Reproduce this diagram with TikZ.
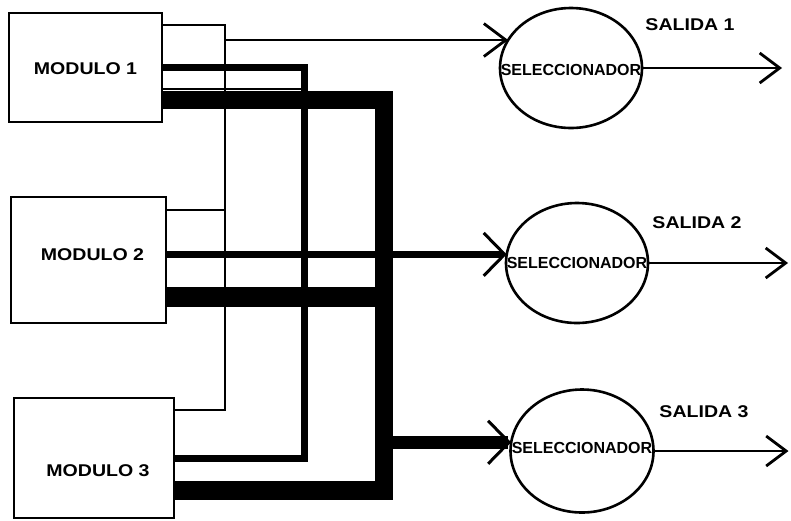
\documentclass[tikz,border=0pt]{standalone}
\usepackage{fontspec}
\newfontfamily\lblfont[FakeStretch=1.15]{Liberation Sans}
\newfontfamily\selfont{Liberation Sans}
\usetikzlibrary{shapes.geometric,arrows.meta}

\begin{document}
\begin{tikzpicture}[x=1pt,y=-1pt,
    modbox/.style={draw,line width=2.6pt,inner sep=0pt,outer sep=0pt,anchor=north west},
    selbox/.style={draw,ellipse,line width=2.6pt,inner sep=0pt,outer sep=0pt,minimum width=142pt,minimum height=120pt},
    lbl/.style={font=\lblfont\bfseries\fontsize{17}{20}\selectfont,inner sep=0pt},
    sellbl/.style={font=\selfont\bfseries\fontsize{16}{19}\selectfont,inner sep=0pt},
    wthin/.style={line width=2.6pt},
    wmed/.style={line width=7pt},
    wthick/.style={line width=18pt},
    selin/.tip={Straight Barb[length=22pt,width=33pt,line width=2.8pt]},
    selinw/.tip={Straight Barb[length=21pt,width=43pt,line width=3pt]},
    selout/.tip={Straight Barb[length=20pt,width=30pt,line width=2.8pt]}
]
\useasboundingbox (0,0) rectangle (791,520);

% Module boxes
\node[modbox,minimum width=153pt,minimum height=109pt,
      label={[lbl,yshift=-1pt]center:MODULO 1}] (m1) at (9,13) {};
\node[modbox,minimum width=155pt,minimum height=126pt,
      label={[lbl,xshift=4pt,yshift=5pt]center:MODULO 2}] (m2) at (11,197) {};
\node[modbox,minimum width=160pt,minimum height=120pt,
      label={[lbl,xshift=4pt,yshift=-13pt]center:MODULO 3}] (m3) at (14,398) {};

% Selectors
\node[selbox,label={[sellbl,yshift=-2pt]center:SELECCIONADOR}] (s1) at (571,68) {};
\node[selbox,label={[sellbl]center:SELECCIONADOR}] (s2) at (577,263) {};
\node[selbox,minimum width=143pt,minimum height=123pt,
      label={[sellbl,yshift=3pt]center:SELECCIONADOR}] (s3) at (582,451) {};

% Output labels
\node[lbl] (sal1) at (690,25) {SALIDA 1};
\node[lbl] (sal2) at (697,223) {SALIDA 2};
\node[lbl] (sal3) at (704,412) {SALIDA 3};

% Ports on the modules
\coordinate (m1a) at ([yshift=-12pt]m1.north east);
\coordinate (m1b) at ([yshift=-54pt]m1.north east);
\coordinate (m1c) at ([yshift=-76pt]m1.north east);
\coordinate (m1d) at ([yshift=-87pt]m1.north east);
\coordinate (m2a) at ([yshift=-13pt]m2.north east);
\coordinate (m2c) at ([yshift=-91pt]m2.north east);
\coordinate (m2d) at ([yshift=-101pt]m2.north east);
\coordinate (m3a) at ([yshift=-12pt]m3.north east);
\coordinate (m3b) at ([yshift=-60pt]m3.north east);
\coordinate (m3c) at ([yshift=-84pt]m3.north east);
\coordinate (m3d) at ([yshift=-93pt]m3.north east);

% Vertical buses
\coordinate (busA) at (225,200);
\coordinate (busB) at (304,200);
\coordinate (busC) at (384,200);

% Outputs ends
\coordinate (o1) at ([xshift=140pt]s1.east);
\coordinate (o2) at ([xshift=140pt]s2.east);
\coordinate (o3) at ([xshift=135pt]s3.east);

% Thin bus
\draw[wthin] (m1a) -| (busA) |- (m3a);
\draw[wthin] (m2a) -- (m2a -| busA);
\draw[wthin,-selin] (busA |- s1.156) -- (s1.156);

% Extra thin lines
\draw[wthin] (m1c) -- (m1c -| busB);
\draw[wthin] (m2c) -- (m2c -| busC);
\draw[wthin] (m3c) -- (m3c -| busC);

% Medium bus
\draw[wmed,line join=miter] (m1b) -| (busB) |- (m3b);
\draw[wmed,-selinw] (m2.east |- s2.173) -- (s2.173);

% Thick bus
\draw[wthick,line join=miter] (m1d) -| (busC) |- (m3d);
\draw[wthick] (m2d) -- (m2d -| busC);
\draw[line width=13pt,-selinw] (busC |- s3.173) -- (s3.173);

% Selector outputs
\draw[wthin,-selout] (s1.east) -- (o1);
\draw[wthin,-selout] (s2.east) -- (o2);
\draw[wthin,-selout] (s3.east) -- (o3);

\end{tikzpicture}
\end{document}
